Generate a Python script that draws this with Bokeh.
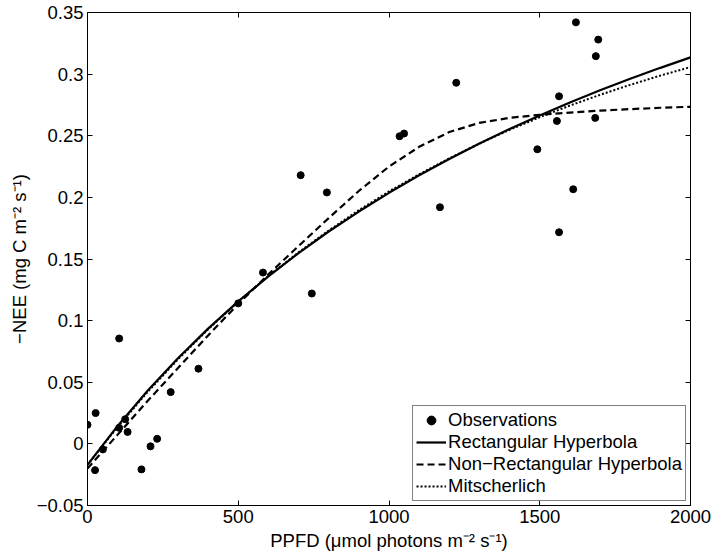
from bokeh.plotting import figure
from bokeh.models import (LinearAxis, FixedTicker, CustomJSTickFormatter, Range1d,
                          Legend, LegendItem)
from bokeh.embed import file_html
from bokeh.resources import INLINE

# Observations (PPFD, -NEE)
obs_ppfd = [0, 27, 25, 51, 105, 105, 125, 133, 179, 209, 231, 276, 368, 500, 582,
            707, 744, 794, 1035, 1050, 1169, 1223, 1492, 1557, 1564, 1564, 1611,
            1620, 1684, 1686, 1694]
obs_nee = [0.0155, 0.025, -0.0213, -0.0045, 0.0855, 0.013, 0.020, 0.0097, -0.0207,
           -0.002, 0.0041, 0.042, 0.061, 0.114, 0.139, 0.218, 0.122, 0.204, 0.2496,
           0.2518, 0.192, 0.293, 0.239, 0.262, 0.282, 0.1717, 0.2066, 0.342, 0.2645,
           0.3146, 0.328]

# Fitted curves
curve_ppfd = [0, 100, 200, 300, 400, 500, 600, 700, 800, 900, 1000, 1100, 1200, 1300,
              1400, 1500, 1600, 1700, 1800, 1900, 2000]
rect_hyp = [-0.017, 0.0146, 0.0433, 0.0695, 0.0935, 0.1156, 0.1359, 0.1548, 0.1723,
            0.1885, 0.2037, 0.2179, 0.2312, 0.2437, 0.2554, 0.2665, 0.2770, 0.2869,
            0.2962, 0.3051, 0.3136]
nonrect_hyp = [-0.020, 0.0075, 0.035, 0.0615, 0.088, 0.1135, 0.1375, 0.1605, 0.1832,
               0.2052, 0.2250, 0.2410, 0.2530, 0.2605, 0.2645, 0.2670, 0.2688, 0.2704,
               0.2716, 0.2727, 0.2735]
mitscherlich = [-0.017, 0.0138, 0.0423, 0.0686, 0.0929, 0.1154, 0.1362, 0.1554, 0.1731,
                0.1896, 0.2048, 0.2187, 0.2317, 0.2437, 0.2548, 0.2650, 0.2745, 0.2832,
                0.2913, 0.2988, 0.3057]

x_ticks = [0, 500, 1000, 1500, 2000]
y_ticks = [-0.05, 0, 0.05, 0.1, 0.15, 0.2, 0.25, 0.3, 0.35]

FONT = "Liberation Sans"
FS = "18.5px"

p = figure(width=711, height=555, x_range=Range1d(0, 2000), y_range=Range1d(-0.05, 0.35),
           output_backend="svg", toolbar_location=None,
           min_border_left=87, min_border_right=21, min_border_top=12, min_border_bottom=50)
p.grid.visible = False
p.outline_line_color = "black"
p.outline_line_width = 1
p.background_fill_color = "white"
p.border_fill_color = "white"

yfmt = CustomJSTickFormatter(code="""
var v = Math.round(tick*100)/100;
if (v == 0) return '0';
var s = Math.abs(v).toString();
return v < 0 ? '\u2212' + s : s;
""")

for ax in p.xaxis:
    ax.ticker = FixedTicker(ticks=x_ticks)
    ax.axis_label = "PPFD (\u03bcmol photons m\u207b\u00b2 s\u207b\u00b9)"
for ax in p.yaxis:
    ax.ticker = FixedTicker(ticks=y_ticks)
    ax.formatter = yfmt
    ax.axis_label = "\u2212NEE (mg C m\u207b\u00b2 s\u207b\u00b9)"

for ax in list(p.xaxis) + list(p.yaxis):
    ax.major_tick_in = 5
    ax.major_tick_out = 0
    ax.minor_tick_line_color = None
    ax.axis_line_color = "black"
    ax.major_tick_line_color = "black"
    ax.major_label_text_font = FONT
    ax.major_label_text_font_size = FS
    ax.major_label_text_color = "black"
    ax.axis_label_text_font = FONT
    ax.axis_label_text_font_size = FS
    ax.axis_label_text_font_style = "normal"
    ax.axis_label_text_color = "black"
    ax.major_label_standoff = 4
    ax.axis_label_standoff = 4

empty = CustomJSTickFormatter(code="return '';")
top = LinearAxis(ticker=FixedTicker(ticks=x_ticks), formatter=empty, major_tick_in=5,
                 major_tick_out=0, minor_tick_line_color=None, axis_line_color=None,
                 major_label_standoff=0, major_label_text_font_size="0px")
right = LinearAxis(ticker=FixedTicker(ticks=y_ticks), formatter=empty, major_tick_in=5,
                   major_tick_out=0, minor_tick_line_color=None, axis_line_color=None,
                   major_label_standoff=0, major_label_text_font_size="0px")
p.add_layout(top, "above")
p.add_layout(right, "right")

r_rect = p.line(curve_ppfd, rect_hyp, line_color="black", line_width=2.2)
r_nrh = p.line(curve_ppfd, nonrect_hyp, line_color="black", line_width=2.2, line_dash="7 4")
r_mit = p.line(curve_ppfd, mitscherlich, line_color="black", line_width=2, line_dash="2 2")
r_obs = p.scatter(obs_ppfd, obs_nee, size=7, fill_color="black", line_color="black")

legend = Legend(items=[
    LegendItem(label="Observations", renderers=[r_obs]),
    LegendItem(label="Rectangular Hyperbola", renderers=[r_rect]),
    LegendItem(label="Non\u2212Rectangular Hyperbola", renderers=[r_nrh]),
    LegendItem(label="Mitscherlich", renderers=[r_mit]),
], location="bottom_right")
legend.border_line_color = "black"
legend.border_line_width = 1.2
legend.background_fill_color = "white"
legend.background_fill_alpha = 1
legend.label_text_font = FONT
legend.label_text_font_size = FS
legend.label_text_color = "black"
legend.padding = 3
legend.spacing = 0
legend.margin = 4
legend.glyph_width = 30
legend.glyph_height = 22
legend.label_height = 22
legend.label_standoff = 2
p.add_layout(legend)

open("out.html", "w", encoding="utf-8").write(file_html(p, INLINE))
